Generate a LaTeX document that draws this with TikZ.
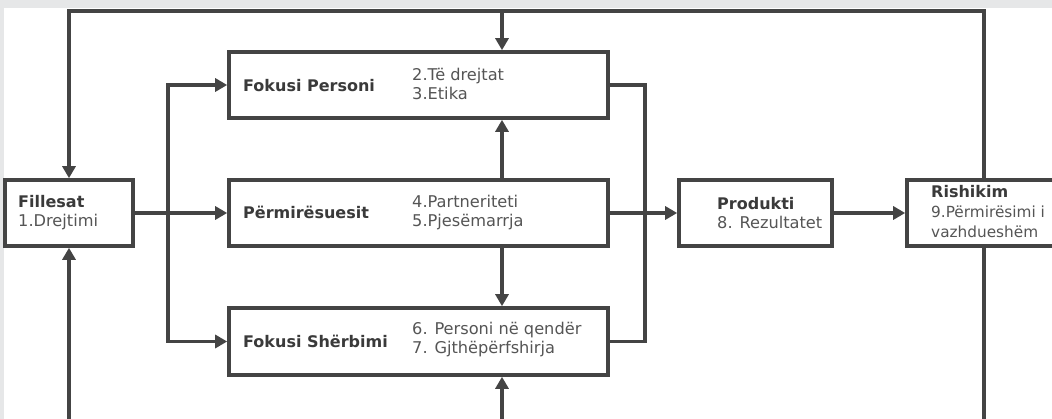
\documentclass[tikz,border=0pt]{standalone}
\usepackage{fontspec}
\setmainfont{DejaVu Sans}
\usetikzlibrary{arrows.meta}
\definecolor{ln}{HTML}{444444}
\definecolor{tb}{HTML}{3A3A3A}
\definecolor{tg}{HTML}{555555}
\definecolor{bg}{HTML}{E6E7E8}
\begin{document}
\begin{tikzpicture}[x=1pt,y=-1pt,line join=miter,
  box/.style={draw=ln,line width=3.6pt,fill=white,rectangle,inner sep=0pt},
  con/.style={draw=ln,line width=3.2pt},
  arr/.style={con,-{Triangle[length=12pt,width=13pt]}},
  lbl/.style={font=\fontsize{16}{19.5}\selectfont\bfseries,text=tb,anchor=base west,inner sep=0pt},
  txt/.style={font=\fontsize{16.2}{19.5}\selectfont,text=tg,anchor=base west,inner sep=0pt},
  txts/.style={txt,font=\fontsize{15.3}{19.5}\selectfont}]
\useasboundingbox (0,0) rectangle (1052,419);
\clip (0,0) rectangle (1052,419);
\fill[white] (0,0) rectangle (1052,419);
\fill[bg] (0,0) rectangle (1052,8);
\fill[bg] (0,0) rectangle (4,419);
% boxes
\node[box,minimum width=128pt,minimum height=66pt] (fil) at (69,213) {};
\node[box,minimum width=379pt,minimum height=66pt] (fp) at (418.5,85) {};
\node[box,minimum width=379pt,minimum height=66pt] (pm) at (418.5,213) {};
\node[box,minimum width=379pt,minimum height=67pt] (fs) at (418.5,341.5) {};
\node[box,minimum width=153pt,minimum height=66pt] (pr) at (755.5,213) {};
\node[box,minimum width=193pt,minimum height=66pt] (ri) at (1003.5,213) {};
% coordinates
\coordinate (tl) at (69,11);
\coordinate (tm) at (502,11);
\coordinate (tr) at (984,11);
\coordinate (bl) at (69,430);
\coordinate (bm) at (502,430);
\coordinate (br) at (984,430);
\coordinate (lb1) at (168,85);
\coordinate (lb2) at (168,341.5);
\coordinate (rb1) at (645,85);
\coordinate (rb2) at (645,341.5);
% connectors
\draw[arr] (ri.north -| tr) -- (tr) -- (tl) -- (fil.north);
\draw[arr] (tm) -- (fp.north -| tm);
\draw[arr] (bl) -- (fil.south);
\draw[arr] (bm) -- (fs.south -| bm);
\draw[con] (ri.south -| br) -- (br);
\draw[arr] (fil.east) -- (pm.west);
\draw[arr] (lb2) -- (lb1) -- (fp.west);
\draw[arr] (lb1) -- (lb2) -- (fs.west);
\draw[arr] (pm.north -| tm) -- (fp.south -| tm);
\draw[arr] (pm.south -| tm) -- (fs.north -| tm);
\draw[con] (fp.east) -- (rb1) -- (rb2) -- (fs.east);
\draw[arr] (pm.east) -- (pr.west);
\draw[arr] (pr.east) -- (ri.west);
% texts
\node[lbl] (filT) at (18,208) {Fillesat};
\node[txt] (filS) at (18,227) {1.Drejtimi};
\node[lbl] (fpT) at (243,92) {Fokusi Personi};
\node[txt] (fpS1) at (412,81) {2.Të drejtat};
\node[txt] (fpS2) at (412,100) {3.Etika};
\node[lbl] (pmT) at (243,219) {Përmirësuesit};
\node[txt] (pmS1) at (412,208) {4.Partneriteti};
\node[txt] (pmS2) at (412,227) {5.Pjesëmarrja};
\node[lbl] (fsT) at (243,348) {Fokusi Shërbimi};
\node[txt] (fsS1) at (412,335) {6. Personi në qendër};
\node[txt] (fsS2) at (412,354) {7. Gjthëpërfshirja};
\node[lbl] (prT) at (717,210) {Produkti};
\node[txt] (prS) at (717,229) {8. Rezultatet};
\node[lbl] (riT) at (931,198) {Rishikim};
\node[txts] (riS1) at (931,218) {9.Përmirësimi i};
\node[txts] (riS2) at (931,238) {vazhdueshëm};
\end{tikzpicture}
\end{document}
